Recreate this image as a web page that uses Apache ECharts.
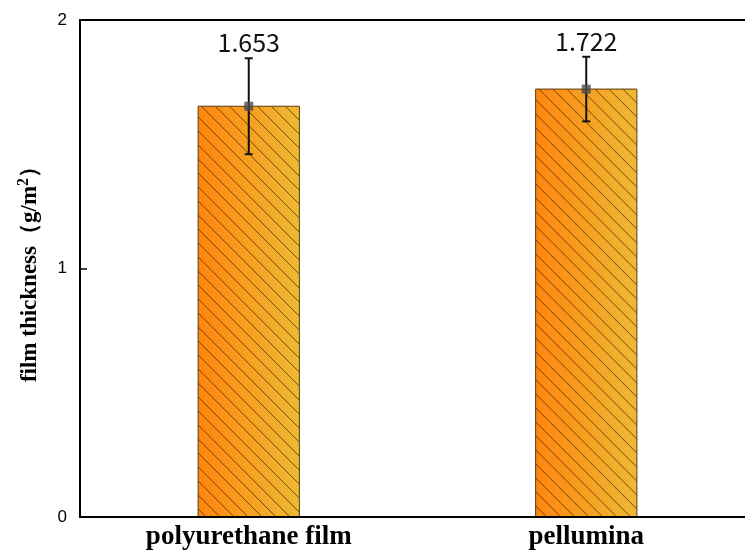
<!DOCTYPE html>
<html>
<head>
<meta charset="utf-8">
<script src="https://cdn.jsdelivr.net/npm/echarts@6/dist/echarts.min.js"></script>
<style>
  html, body { margin: 0; padding: 0; background: #fff; }
  #chart { width: 745px; height: 555px; }
</style>
</head>
<body>
<div id="chart"></div>
<script>
// Film thickness per coating, mean with standard deviation
const categories = ['polyurethane film', 'pellumina'];
const means = [1.653, 1.722];
const errors = [0.193, 0.13];
const yTicks = [0, 1, 2];

const chart = echarts.init(document.getElementById('chart'));

const barData = categories.map((c, i) => [i, means[i]]);
const errorData = categories.map((c, i) => [i, means[i] - errors[i], means[i] + errors[i], means[i]]);

// Hatched bar: gradient fill plus diagonal lines clipped to the bar rectangle
function renderBar(params, api) {
  const i = api.value(0);
  const top = api.coord([i, api.value(1)]);
  const base = api.coord([i, 0]);
  const w = api.size([1, 0])[0] * 0.3;
  const x0 = top[0] - w / 2, x1 = top[0] + w / 2;
  const y0 = top[1], y1 = base[1];
  const children = [{
    type: 'rect',
    shape: { x: x0, y: y0, width: w, height: y1 - y0 },
    style: {
      fill: new echarts.graphic.LinearGradient(0, 0, 1, 0, [
        { offset: 0, color: '#ff860f' },
        { offset: 1, color: '#eeb933' }
      ])
    }
  }];
  const step = 14;
  for (let c = y0 - x1 - step * Math.ceil((x1 - x0) / step); c < y1 - x0; c += step) {
    const sx = Math.max(x0, y0 - c);
    const ex = Math.min(x1, y1 - c);
    if (ex > sx) {
      children.push({
        type: 'line',
        shape: { x1: sx, y1: sx + c, x2: ex, y2: ex + c },
        style: { stroke: 'rgba(70,35,0,0.8)', lineWidth: 0.9 }
      });
    }
  }
  children.push({
    type: 'rect',
    shape: { x: x0, y: y0, width: w, height: y1 - y0 },
    style: { fill: 'none', stroke: '#5a3a12', lineWidth: 1 }
  });
  return { type: 'group', children };
}

function renderError(params, api) {
  const x = api.value(0);
  const lo = api.coord([x, api.value(1)]);
  const hi = api.coord([x, api.value(2)]);
  const cap = 4;
  const style = { stroke: '#111', lineWidth: 2 };
  return {
    type: 'group',
    children: [
      { type: 'line', shape: { x1: hi[0], y1: hi[1], x2: lo[0], y2: lo[1] }, style },
      { type: 'line', shape: { x1: hi[0] - cap, y1: hi[1], x2: hi[0] + cap, y2: hi[1] }, style },
      { type: 'line', shape: { x1: lo[0] - cap, y1: lo[1], x2: lo[0] + cap, y2: lo[1] }, style },
      {
        type: 'text',
        x: hi[0], y: hi[1] - 3,
        style: {
          text: api.value(3).toFixed(3),
          fontFamily: 'Noto Sans CJK SC, sans-serif',
          fontSize: 25,
          fill: '#111',
          align: 'center',
          verticalAlign: 'bottom'
        }
      }
    ]
  };
}

chart.setOption({
  animation: false,
  grid: {
    left: 80, top: 20, bottom: 38, width: 675,
    outerBoundsMode: 'none',
    containLabel: false,
    show: true, borderColor: '#000', borderWidth: 2, backgroundColor: 'transparent'
  },
  xAxis: {
    type: 'category',
    data: categories,
    axisLine: { lineStyle: { color: '#000', width: 2 } },
    axisTick: { inside: true, alignWithLabel: true, length: 8, lineStyle: { color: '#000', width: 1.5 } },
    axisLabel: {
      color: '#000', fontFamily: 'Liberation Serif, Times New Roman, serif',
      fontWeight: 'bold', fontSize: 27, margin: 7
    },
    splitLine: { show: false },
    z: 10
  },
  yAxis: {
    type: 'value',
    min: yTicks[0], max: yTicks[yTicks.length - 1], interval: 1,
    name: 'film thickness（g/m{sup|2}）',
    nameLocation: 'middle',
    nameGap: 36,
    nameTextStyle: {
      color: '#000', fontFamily: 'Liberation Serif, Times New Roman, serif',
      fontWeight: 'bold', fontSize: 23, lineHeight: 28,
      rich: {
        sup: {
          fontFamily: 'Liberation Serif, Times New Roman, serif',
          fontWeight: 'bold', fontSize: 16, verticalAlign: 'top', lineHeight: 14,
          color: '#000'
        }
      }
    },
    axisLine: { show: true, lineStyle: { color: '#000', width: 2 } },
    axisTick: { show: true, inside: true, length: 7, lineStyle: { color: '#000', width: 1.5 } },
    axisLabel: {
      color: '#000', fontFamily: 'Liberation Sans, Arial, sans-serif',
      fontSize: 17, margin: 13
    },
    splitLine: { show: false }
  },
  series: [
    {
      type: 'custom',
      data: barData,
      renderItem: renderBar,
      encode: { x: 0, y: 1 },
      z: 2
    },
    {
      type: 'scatter',
      data: means,
      symbol: 'rect',
      symbolSize: 9,
      itemStyle: { color: '#4d4d4d' },
      z: 5
    },
    {
      type: 'custom',
      data: errorData,
      renderItem: renderError,
      encode: { x: 0, y: [1, 2] },
      z: 4
    }
  ]
});
</script>
</body>
</html>
